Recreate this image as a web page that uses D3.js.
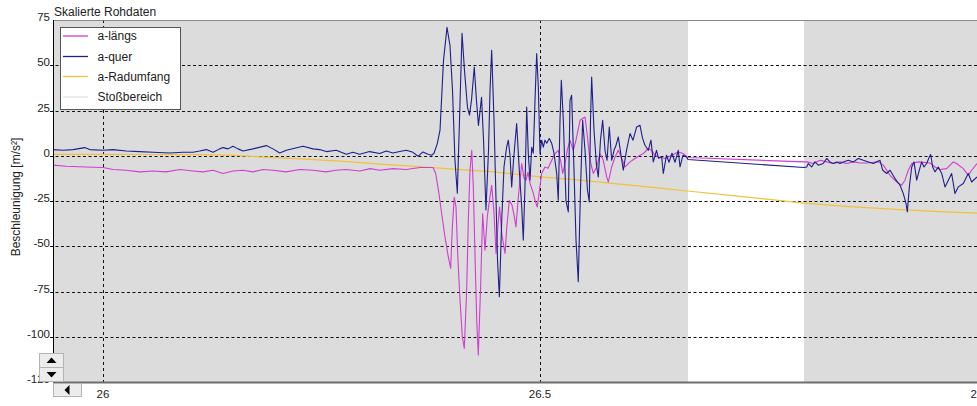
<!DOCTYPE html>
<html><head><meta charset="utf-8">
<script src="https://cdn.jsdelivr.net/npm/d3@7"></script>
<style>
body{margin:0;background:#fff;}
svg{display:block;font-family:"Liberation Sans",Arial,sans-serif;}
</style>
</head><body>
<svg id="c" width="977" height="406"></svg>
<script>
// ---------- data ----------
const chartTitle = "Skalierte Rohdaten";
const yAxisTitle = "Beschleunigung [m/s²]";
const legendNames = ["a-längs", "a-quer", "a-Radumfang", "Stoßbereich"];
const yTicks = [75, 50, 25, 0, -25, -50, -75, -100, -125];
const xTicks = [26, 26.5, 27];
const xTickLabels = ["26", "26.5", "27"];
const xDomain = [25.9428, 27.0];
const yDomain = [-125, 75];
const whiteBand = [26.6693, 26.8021];

const aLaengs = [
[25.9428,-5.2],[25.9577,-5.8],[25.9805,-6.2],[26.0000,-6.5],[26.0114,-7.6],[26.0263,-8.0],[26.0423,-8.9],
[26.0572,-8.4],[26.0721,-8.9],[26.0881,-7.6],[26.1030,-8.4],[26.1144,-8.9],[26.1259,-8.0],[26.1373,-9.8],
[26.1487,-8.4],[26.1602,-8.0],[26.1716,-8.9],[26.1831,-7.6],[26.1945,-8.0],[26.2094,-8.9],[26.2254,-7.6],
[26.2403,-8.0],[26.2551,-8.9],[26.2666,-8.0],[26.2780,-7.6],[26.2941,-8.4],[26.3055,-7.1],[26.3169,-8.0],
[26.3318,-7.1],[26.3467,-7.6],[26.3627,-6.5],[26.3776,-6.5],[26.3807,-9.8],[26.3844,-20.9],[26.3875,-31.9],
[26.3913,-44.8],[26.3947,-54.9],[26.3978,-62.3],[26.3997,-39.3],[26.4019,-22.9],[26.4039,-28.3],[26.4058,-54.0],
[26.4085,-79.7],[26.4111,-100.0],[26.4134,-106.4],[26.4161,-74.2],[26.4180,-35.6],[26.4199,-8.0],[26.4219,3.0],
[26.4237,-17.2],[26.4256,-54.0],[26.4276,-90.8],[26.4294,-110.1],[26.4321,-71.5],[26.4344,-31.9],[26.4371,-52.2],
[26.4397,-33.8],[26.4422,-24.6],[26.4447,-16.3],[26.4474,-31.9],[26.4497,-54.0],[26.4519,-38.4],[26.4537,-28.3],
[26.4565,-43.9],[26.4600,-54.0],[26.4622,-38.4],[26.4649,-24.6],[26.4680,-27.3],[26.4703,-32.8],[26.4725,-39.3],
[26.4754,-21.8],[26.4791,-4.3],[26.4817,-12.4],[26.4840,-13.5],[26.4863,-9.1],[26.4886,-15.3],[26.4920,-20.1],
[26.4943,-24.6],[26.4969,-28.3],[26.4994,-19.0],[26.5019,-9.8],[26.5057,-6.2],[26.5092,-6.9],[26.5134,-2.5],
[26.5172,1.2],[26.5209,3.0],[26.5235,-2.5],[26.5260,-9.8],[26.5286,-4.3],[26.5312,3.0],[26.5343,8.6],
[26.5381,3.0],[26.5412,8.6],[26.5458,19.6],[26.5515,21.4],[26.5538,12.4],[26.5572,-2.5],[26.5610,-9.8],
[26.5649,-6.2],[26.5686,1.2],[26.5724,-2.5],[26.5763,-11.7],[26.5782,-14.5],[26.5820,-6.2],[26.5858,-0.7],
[26.5896,3.0],[26.5935,-1.5],[26.5973,-6.2],[26.6030,-3.4],[26.6087,-1.5],[26.6144,0.3],[26.6182,1.2],
[26.6239,4.0],[26.6278,3.0],[26.6316,0.3],[26.6354,-0.7],[26.6430,-1.5],[26.6507,0.3],[26.6582,2.1],
[26.6640,1.2],[26.6693,-1.0],[26.8021,-3.4],[26.8055,-3.4],[26.8127,-4.3],[26.8204,-2.5],[26.8280,-3.4],
[26.8356,-4.3],[26.8432,-3.4],[26.8509,-4.3],[26.8585,-3.4],[26.8661,-4.0],[26.8738,-4.0],[26.8814,-3.6],
[26.8871,-3.4],[26.8928,-5.2],[26.9005,-10.8],[26.9081,-14.5],[26.9138,-16.3],[26.9176,-13.5],[26.9214,-8.0],
[26.9253,-4.3],[26.9328,-3.4],[26.9462,-4.0],[26.9519,-6.2],[26.9577,-7.6],[26.9653,-7.1],[26.9729,-3.4],
[26.9767,-4.3],[26.9843,-7.1],[26.9900,-10.8],[26.9939,-8.0],[27.0000,-4.3]
];

const aQuer = [
[25.9428,3.4],[25.9542,3.0],[25.9657,3.4],[25.9791,4.5],[25.9848,3.4],[26.0000,3.0],[26.0114,3.4],[26.0267,2.6],
[26.0420,2.3],[26.0572,1.9],[26.0763,1.5],[26.0915,1.9],[26.1030,1.9],[26.1106,2.6],[26.1182,3.4],[26.1259,1.9],
[26.1335,3.8],[26.1373,4.5],[26.1430,3.8],[26.1487,5.2],[26.1545,3.8],[26.1602,2.6],[26.1716,3.8],[26.1868,5.6],
[26.1945,3.8],[26.2022,1.5],[26.2097,3.0],[26.2288,5.2],[26.2403,3.8],[26.2479,3.4],[26.2555,2.3],[26.2669,3.0],
[26.2784,0.8],[26.2860,1.9],[26.2937,0.8],[26.3051,2.3],[26.3166,1.2],[26.3241,2.6],[26.3318,1.5],[26.3395,2.3],
[26.3470,3.0],[26.3547,1.9],[26.3604,-0.3],[26.3661,2.1],[26.3719,0.8],[26.3761,0.3],[26.3787,1.4],[26.3825,6.7],
[26.3856,14.1],[26.3896,52.7],[26.3936,70.9],[26.3970,61.0],[26.3999,36.1],[26.4027,-2.5],[26.4054,-20.7],
[26.4079,19.6],[26.4108,67.6],[26.4136,47.2],[26.4170,26.9],[26.4193,22.4],[26.4216,30.6],[26.4248,49.0],
[26.4273,30.6],[26.4296,16.8],[26.4331,32.3],[26.4354,8.6],[26.4382,-30.0],[26.4411,3.0],[26.4428,36.1],
[26.4447,58.2],[26.4474,19.6],[26.4497,-24.6],[26.4514,-57.7],[26.4535,-77.9],[26.4562,-35.6],[26.4588,-6.2],
[26.4619,4.9],[26.4637,8.6],[26.4657,0.3],[26.4676,-17.2],[26.4697,-2.5],[26.4733,17.8],[26.4763,-8.0],
[26.4791,-28.4],[26.4809,-46.6],[26.4828,-17.4],[26.4848,26.9],[26.4866,1.4],[26.4886,-13.5],[26.4905,4.7],
[26.4923,1.4],[26.4943,30.6],[26.4962,56.4],[26.4981,37.8],[26.5000,1.2],[26.5019,8.6],[26.5038,4.7],
[26.5057,8.6],[26.5077,6.9],[26.5106,9.5],[26.5134,6.9],[26.5160,1.4],[26.5191,-9.7],[26.5209,-24.6],
[26.5229,19.6],[26.5244,41.7],[26.5267,19.6],[26.5297,-24.6],[26.5324,-31.0],[26.5343,30.6],[26.5362,33.4],
[26.5389,-8.0],[26.5412,-46.6],[26.5438,-69.6],[26.5463,-19.0],[26.5488,19.6],[26.5515,3.0],[26.5543,-19.0],
[26.5564,-25.5],[26.5578,19.6],[26.5591,43.5],[26.5618,14.1],[26.5646,-5.2],[26.5667,-11.7],[26.5692,8.6],
[26.5717,19.6],[26.5744,3.0],[26.5767,-2.5],[26.5793,15.9],[26.5820,-2.5],[26.5847,3.0],[26.5870,5.8],
[26.5896,10.4],[26.5927,0.3],[26.5953,-8.0],[26.5990,3.0],[26.6030,12.3],[26.6064,8.6],[26.6106,15.9],
[26.6144,16.8],[26.6173,9.7],[26.6201,5.8],[26.6239,3.0],[26.6270,8.6],[26.6296,-3.4],[26.6333,3.0],
[26.6356,-1.4],[26.6392,-0.7],[26.6411,-9.8],[26.6447,0.3],[26.6476,-3.6],[26.6510,1.4],[26.6545,-3.6],
[26.6582,3.0],[26.6602,-6.2],[26.6636,0.3],[26.6678,-0.7],[26.6693,-2.1],[26.8021,-6.5],
[26.8051,-6.2],[26.8070,-4.3],[26.8108,-6.2],[26.8146,-3.4],[26.8184,-5.2],[26.8241,-4.3],[26.8280,-1.5],
[26.8318,-3.4],[26.8356,-4.3],[26.8394,-3.4],[26.8432,-4.3],[26.8471,-3.4],[26.8528,-2.5],[26.8585,-3.4],
[26.8642,-1.5],[26.8700,-2.5],[26.8757,-3.4],[26.8814,-4.3],[26.8890,-2.5],[26.8921,-8.0],[26.8967,-9.8],
[26.9005,-8.0],[26.9062,-12.6],[26.9119,-16.3],[26.9157,-20.9],[26.9188,-26.4],[26.9203,-31.0],[26.9226,-17.2],
[26.9253,-6.2],[26.9279,-3.4],[26.9310,-13.5],[26.9340,-8.0],[26.9367,-3.4],[26.9394,-6.2],[26.9424,-4.3],
[26.9454,-0.7],[26.9470,0.7],[26.9493,-6.2],[26.9519,-8.9],[26.9557,-6.2],[26.9596,-9.8],[26.9634,-17.2],
[26.9672,-13.5],[26.9710,-9.8],[26.9748,-20.9],[26.9786,-17.2],[26.9843,-15.3],[26.9900,-9.8],[26.9939,-14.5],
[27.0000,-11.7]
];

const aRadumfang = [
[25.9428,0.8],[25.9966,0.8],[26.0538,0.7],[26.1110,0.6],[26.1453,0.3],[26.1796,-0.6],[26.2254,-1.7],
[26.2712,-3.0],[26.3169,-4.6],[26.3661,-6.2],[26.4085,-7.7],[26.4485,-8.9],[26.5000,-11.7],[26.5458,-13.5],
[26.5915,-15.7],[26.6373,-17.9],[26.6716,-19.6],[26.7288,-22.4],[26.8021,-26.2],[26.8547,-28.1],
[26.9119,-29.8],[26.9577,-30.9],[27.0000,-31.7]
];

// ---------- styles ----------
const colors = { laengs: "#d23cd2", quer: "#1e1e8c", rad: "#f2c03c", stoss: "#e2e2e2" };
const W = 977, H = 406;
const M = { left: 53, top: 20, right: 977, bottom: 382 };

const svg = d3.select("#c");
const x = d3.scaleLinear().domain(xDomain).range([M.left, M.right]);
const y = d3.scaleLinear().domain(yDomain).range([M.bottom, M.top]);

// plot background
svg.append("rect").attr("x", M.left).attr("y", M.top)
  .attr("width", M.right - M.left).attr("height", M.bottom - M.top).attr("fill", "#dcdcdc");
svg.append("rect").attr("x", x(whiteBand[0])).attr("y", M.top)
  .attr("width", x(whiteBand[1]) - x(whiteBand[0])).attr("height", M.bottom - M.top).attr("fill", "#ffffff");

// grid
const gGrid = svg.append("g");
gGrid.selectAll("line.h").data(yTicks.filter(d => d > yDomain[0] && d < yDomain[1])).join("line")
  .attr("x1", M.left - 3).attr("x2", M.right).attr("y1", d => Math.round(y(d)) + 0.5).attr("y2", d => Math.round(y(d)) + 0.5)
  .attr("stroke", "#111").attr("stroke-width", 1).attr("stroke-dasharray", "3,2.5");
gGrid.selectAll("line.v").data(xTicks.filter(d => d < xDomain[1])).join("line")
  .attr("x1", d => Math.round(x(d)) + 0.5).attr("x2", d => Math.round(x(d)) + 0.5)
  .attr("y1", M.top).attr("y2", M.bottom)
  .attr("stroke", "#111").attr("stroke-width", 1).attr("stroke-dasharray", "3,3");

// clip
svg.append("clipPath").attr("id", "clip").append("rect")
  .attr("x", M.left).attr("y", M.top).attr("width", M.right - M.left).attr("height", M.bottom - M.top);

const line = d3.line().x(d => x(d[0])).y(d => y(d[1]));
const gLines = svg.append("g").attr("clip-path", "url(#clip)");
gLines.append("path").datum(aRadumfang).attr("d", line).attr("fill", "none")
  .attr("stroke", colors.rad).attr("stroke-width", 1.2);
gLines.append("path").datum(aLaengs).attr("d", line).attr("fill", "none")
  .attr("stroke", colors.laengs).attr("stroke-width", 1.1).attr("stroke-linejoin", "round");
gLines.append("path").datum(aQuer).attr("d", line).attr("fill", "none")
  .attr("stroke", colors.quer).attr("stroke-width", 1.1).attr("stroke-linejoin", "round");

// frame
svg.append("line").attr("x1", M.left).attr("x2", M.right).attr("y1", M.top + 0.5).attr("y2", M.top + 0.5)
  .attr("stroke", "#8a8a8a").attr("stroke-width", 1);
svg.append("line").attr("x1", M.left + 0.5).attr("x2", M.left + 0.5).attr("y1", M.top).attr("y2", M.bottom)
  .attr("stroke", "#000").attr("stroke-width", 1);
svg.append("line").attr("x1", M.left).attr("x2", M.right).attr("y1", M.bottom + 0.5).attr("y2", M.bottom + 0.5)
  .attr("stroke", "#6e6e6e").attr("stroke-width", 2);

// y tick labels
svg.append("g").selectAll("text").data(yTicks).join("text")
  .attr("x", M.left - 3).attr("y", d => y(d) + 1)
  .attr("text-anchor", "end").attr("font-size", 11.5).attr("fill", "#222")
  .text(d => d);

// x tick labels
svg.append("g").selectAll("text").data(xTicks).join("text")
  .attr("x", d => x(d)).attr("y", 398)
  .attr("text-anchor", "middle").attr("font-size", 11.5).attr("fill", "#222")
  .text((d, i) => xTickLabels[i]);

// titles
svg.append("text").attr("x", M.left + 1).attr("y", 16).attr("font-size", 12).attr("fill", "#222").text(chartTitle);
svg.append("text").attr("transform", "translate(20,197) rotate(-90)").attr("text-anchor", "middle")
  .attr("font-size", 12).attr("fill", "#222").text(yAxisTitle);

// legend
const leg = svg.append("g");
leg.append("rect").attr("x", 60.5).attr("y", 27.5).attr("width", 120).attr("height", 82)
  .attr("fill", "#fff").attr("stroke", "#555");
const legColors = [colors.laengs, colors.quer, colors.rad, colors.stoss];
const legY = [36, 56.5, 76.5, 97];
legendNames.forEach((n, i) => {
  leg.append("line").attr("x1", 63).attr("x2", 88).attr("y1", legY[i]).attr("y2", legY[i])
    .attr("stroke", legColors[i]).attr("stroke-width", 1.3);
  leg.append("text").attr("x", 97.5).attr("y", legY[i] + 4.2).attr("font-size", 12).attr("fill", "#222").text(n);
});

// scroll buttons (UI decoration)
function btn(x0, y0, w, h, dir) {
  svg.append("rect").attr("x", x0 + 0.5).attr("y", y0 + 0.5).attr("width", w).attr("height", h)
    .attr("fill", "#ececec").attr("stroke", "#b4b4b4");
  const cx = x0 + w / 2 + 0.5, cy = y0 + h / 2 + 0.5;
  let p;
  if (dir === "up") p = [[cx - 5, cy + 2.5], [cx + 5, cy + 2.5], [cx, cy - 3]];
  else if (dir === "down") p = [[cx - 5, cy - 2.5], [cx + 5, cy - 2.5], [cx, cy + 3]];
  else p = [[cx + 2, cy - 5], [cx + 2, cy + 5], [cx - 3, cy]];
  svg.append("path").attr("d", "M" + p.map(q => q.join(",")).join("L") + "Z").attr("fill", "#000");
}
btn(39, 353, 24, 14, "up");
btn(39, 367, 24, 14, "down");
btn(53, 383, 28, 13, "left");
</script>
</body></html>
